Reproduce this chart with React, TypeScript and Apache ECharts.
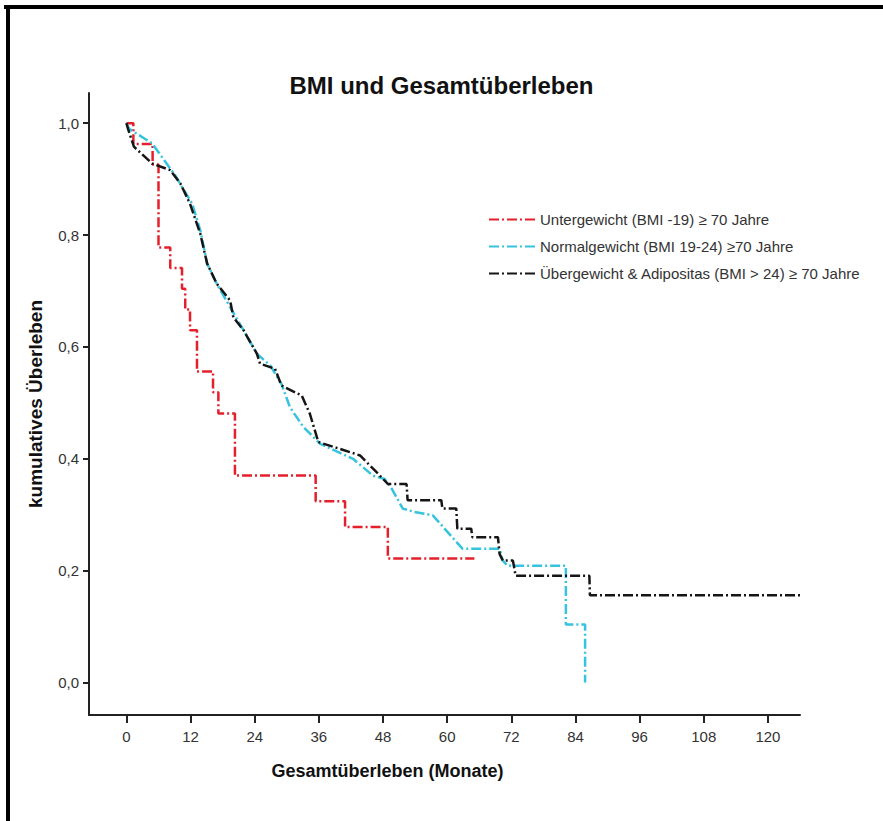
import React, { useEffect, useRef } from "react";
import * as echarts from "echarts";

// Kaplan–Meier survival estimates, [month, cumulative survival]
const untergewicht: [number, number][] = [
  [0, 1.0], [1.3, 0.963], [4.9, 0.926], [6.0, 0.778], [8.2, 0.741], [10.4, 0.704],
  [11.0, 0.667], [11.9, 0.63], [13.2, 0.556], [16.2, 0.519], [17.2, 0.481],
  [20.3, 0.37], [35.4, 0.324], [40.9, 0.278], [48.9, 0.222], [65.1, 0.222],
];

const normalgewicht: [number, number][] = [
  [0, 1.0], [0.5, 0.99], [4.8, 0.964], [9.1, 0.907], [12.3, 0.856], [13.8, 0.809],
  [15.1, 0.749], [16.9, 0.713], [19.4, 0.671], [21.9, 0.63], [24.4, 0.588],
  [26.9, 0.567], [29.0, 0.534], [30.6, 0.492], [33.1, 0.457], [36.2, 0.427],
  [42.4, 0.4], [46.1, 0.37], [48.3, 0.364], [49.6, 0.347], [51.7, 0.311],
  [53.9, 0.305], [57.3, 0.299], [59.8, 0.272], [62.9, 0.239], [69.8, 0.239],
  [70.4, 0.218], [71.3, 0.209], [82.2, 0.209], [82.2, 0.104], [85.8, 0.104],
  [85.8, 0.0],
];

const uebergewicht: [number, number][] = [
  [0, 1.0], [0.3, 0.99], [1.4, 0.958], [4.8, 0.928], [8.2, 0.916], [10.1, 0.892],
  [11.9, 0.856], [13.8, 0.803], [15.1, 0.749], [16.9, 0.713], [19.4, 0.683],
  [20.0, 0.653], [21.9, 0.63], [24.4, 0.588], [25.0, 0.57], [27.8, 0.561],
  [29.0, 0.531], [32.8, 0.513], [34.3, 0.481], [35.9, 0.43], [41.8, 0.412],
  [43.7, 0.406], [46.8, 0.376], [48.9, 0.355], [52.4, 0.355], [52.6, 0.326],
  [58.9, 0.326], [59.1, 0.311], [61.7, 0.311], [61.9, 0.275], [64.5, 0.275],
  [64.7, 0.26], [69.5, 0.26], [69.8, 0.23], [70.4, 0.218], [72.3, 0.218],
  [72.8, 0.191], [86.6, 0.191], [86.7, 0.156], [126, 0.156],
];

const seriesNames = [
  "Untergewicht (BMI -19) \u2265 70 Jahre",
  "Normalgewicht (BMI 19-24) \u226570 Jahre",
  "\u00dcbergewicht & Adipositas (BMI > 24) \u2265 70 Jahre",
];
const seriesColors = ["#e3202b", "#35c3de", "#151515"];

const monthTicks = [0, 12, 24, 36, 48, 60, 72, 84, 96, 108, 120];
const survivalTicks = [0, 0.2, 0.4, 0.6, 0.8, 1.0];

const FONT = "'Liberation Sans', Arial, Helvetica, sans-serif";
const dashDot = [10, 3, 2, 3];

export default function App() {
  const ref = useRef<HTMLDivElement>(null);

  useEffect(() => {
    if (!ref.current) return;
    const chart = echarts.init(ref.current, undefined, { renderer: "svg" });

    const lineSeries = (name: string, data: [number, number][], color: string, step: any) => ({
      name,
      type: "line",
      data,
      step,
      showSymbol: false,
      symbol: "none",
      color,
      lineStyle: { color, width: 2.5, type: dashDot },
      z: 3,
    });

    chart.setOption({
      animation: false,
      backgroundColor: "#ffffff",
      title: {
        text: "BMI und Gesamt\u00fcberleben",
        left: "center",
        top: 68,
        textStyle: { fontFamily: FONT, fontSize: 24, fontWeight: "bold", color: "#111" },
      },
      legend: {
        orient: "vertical",
        left: 483,
        top: 207,
        itemWidth: 46,
        itemHeight: 12,
        itemGap: 12,
        itemStyle: { opacity: 0 },
        textStyle: { fontFamily: FONT, fontSize: 15, color: "#333" },
        data: seriesNames,
      },
      grid: { left: 89, right: 83, top: 93, bottom: 106, containLabel: false },
      xAxis: {
        type: "value",
        min: -7,
        max: 126,
        name: "Gesamt\u00fcberleben (Monate)",
        nameLocation: "middle",
        nameGap: 47,
        nameTextStyle: {
          fontFamily: FONT, fontSize: 18, fontWeight: "bold", color: "#111",
          padding: [0, 114, 0, 0],
        },
        axisLine: { show: true, onZero: false, lineStyle: { color: "#222", width: 2 } },
        axisTick: { show: true, length: 8, lineStyle: { color: "#222", width: 2 }, customValues: monthTicks },
        axisLabel: { fontFamily: FONT, fontSize: 15, color: "#333", margin: 14, customValues: monthTicks },
        splitLine: { show: false },
      },
      yAxis: {
        type: "value",
        min: -0.058,
        max: 1.054,
        name: "kumulatives \u00dcberleben",
        nameLocation: "middle",
        nameGap: 44,
        nameRotate: 90,
        nameTextStyle: { fontFamily: FONT, fontSize: 19, fontWeight: "bold", color: "#111" },
        axisLine: { show: true, onZero: false, lineStyle: { color: "#222", width: 2 } },
        axisTick: { show: true, length: 6, lineStyle: { color: "#222", width: 2 }, customValues: survivalTicks },
        axisLabel: {
          fontFamily: FONT, fontSize: 15, color: "#333", margin: 10,
          customValues: survivalTicks,
          formatter: (v: number) => v.toFixed(1).replace(".", ","),
        },
        splitLine: { show: false },
      },
      graphic: [
        { type: "line", shape: { x1: 4, y1: 7, x2: 883, y2: 7 }, style: { stroke: "#000", lineWidth: 4 } },
        { type: "line", shape: { x1: 8, y1: 5, x2: 8, y2: 821 }, style: { stroke: "#000", lineWidth: 4 } },
      ],
      series: [
        lineSeries(seriesNames[0], untergewicht, seriesColors[0], "end"),
        lineSeries(seriesNames[1], normalgewicht, seriesColors[1], false),
        lineSeries(seriesNames[2], uebergewicht, seriesColors[2], false),
      ],
    });

    return () => chart.dispose();
  }, []);

  return (
    <div
      ref={ref}
      style={{ position: "fixed", left: 0, top: 0, width: 883, height: 821, background: "#fff" }}
    />
  );
}
